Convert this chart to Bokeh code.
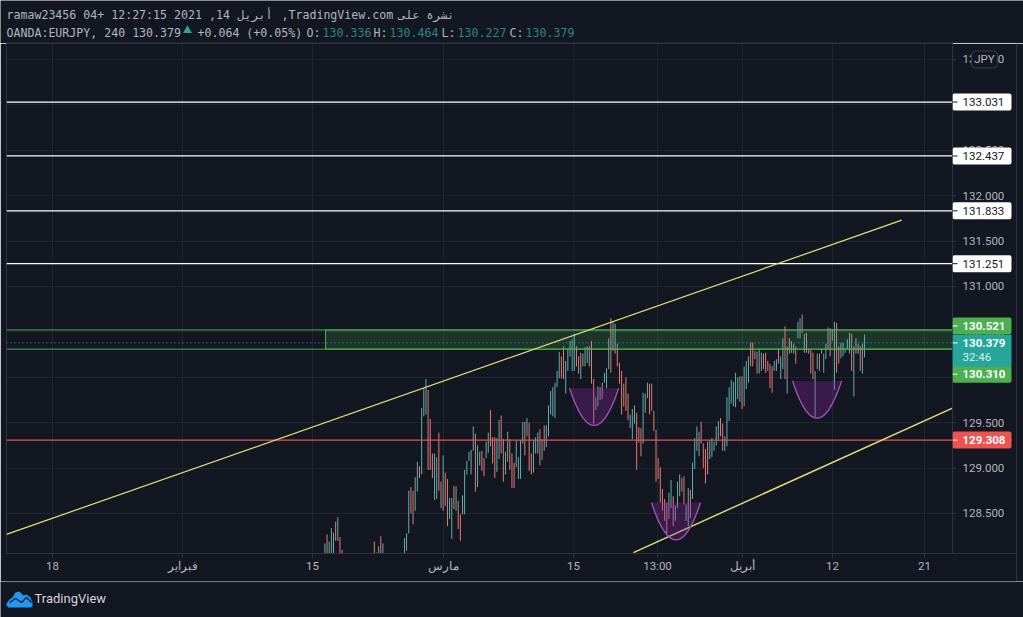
from bokeh.plotting import figure
from bokeh.layouts import column
from bokeh.models import Range1d, FixedTicker, NumeralTickFormatter
from bokeh.core.properties import value
from bokeh.embed import file_html
from bokeh.resources import INLINE
import numpy as np

BG = "#131722"; GRID = "#20242f"; BORDER = "#2f333f"; TXT = "#b2b5be"
UP = "#62aeaa"; DOWN = "#e57a73"; DIM = "#2a8580"

# ---- data: 4h OHLC bars ----
bar_high = [128.17,128.27,128.19,128.34,128.29,128.41,128.46,128.24,128.10,
 127.95,127.90,127.85,127.80,127.85,127.90,127.95,127.90,127.85,127.80,127.85,127.90,127.95,127.98,
 128.19,128.07,128.14,128.25,128.17,
 127.98,127.90,127.85,127.80,127.85,127.90,127.95,128.00,128.02,
 128.23,128.28,128.75,128.79,128.75,128.90,129.07,129.02,129.66,129.88,
 129.98,129.86,129.54,129.16,129.16,129.12,129.39,128.85,129.14,128.95,
 128.88,128.67,128.67,128.80,128.80,128.64,128.49,128.70,128.98,129.08,
 129.18,129.20,129.46,129.38,129.25,129.18,129.19,129.11,129.29,129.39,
 129.64,129.34,129.34,129.33,129.53,129.58,129.32,129.18,129.40,129.32,
 129.16,129.06,129.30,129.12,129.31,129.51,129.51,129.55,129.50,129.16,
 129.31,129.34,129.39,129.43,129.32,129.47,129.47,129.69,129.85,129.89,
 129.94,130.07,130.28,130.23,130.34,130.18,130.32,130.40,130.42,130.48,
 130.34,130.23,130.27,130.26,130.33,130.34,130.34,130.40,129.98,129.78,
 129.90,129.89,129.94,130.05,130.10,130.43,130.65,130.62,130.59,130.37,
 130.16,130.07,129.93,130.00,129.82,129.59,129.65,129.69,129.61,129.45,
 129.44,129.83,129.82,129.94,129.93,129.93,129.63,129.42,129.11,129.01,
 128.77,128.66,128.62,128.73,128.87,128.69,128.59,128.85,128.93,128.89,
 128.91,128.60,128.78,128.76,129.06,129.33,129.46,129.40,129.51,129.27,
 129.21,129.29,129.30,129.33,129.29,129.46,129.52,129.55,129.49,129.35,
 129.78,129.89,129.97,129.95,130.05,130.00,130.01,130.01,130.12,130.18,
 130.23,130.38,130.38,130.29,130.28,130.31,130.27,130.26,130.27,130.18,
 130.15,130.12,130.18,130.20,130.32,130.23,130.43,130.56,130.34,130.43,
 130.40,130.37,130.34,130.61,130.65,130.69,130.48,130.49,130.31,130.31,
 130.27,130.07,130.26,130.26,130.31,130.26,130.37,130.55,130.54,130.53,
 130.61,130.60,130.34,130.38,130.38,130.32,130.42,130.49,130.48,130.34,
 130.43,130.37,130.34,130.37,130.47]
bar_low = [128.00,128.00,128.00,128.00,128.00,128.20,128.20,128.00,128.00,
 127.75,127.70,127.65,127.60,127.65,127.70,127.75,127.70,127.65,127.60,127.65,127.70,127.75,127.80,
 128.00,128.00,128.00,128.00,128.00,
 127.80,127.70,127.65,127.60,127.65,127.70,127.75,127.80,127.85,
 128.00,128.09,128.28,128.50,128.38,128.53,128.74,128.89,128.93,129.57,
 129.59,128.98,128.98,128.89,128.65,128.66,128.75,128.56,128.53,128.58,
 128.36,128.44,128.22,128.55,128.53,128.33,128.20,128.49,128.49,128.93,
 129.08,128.93,129.19,128.74,128.79,129.03,128.97,128.91,129.11,129.17,
 129.24,129.05,128.89,128.96,129.10,129.16,128.85,128.93,129.07,128.98,
 128.78,128.78,129.01,128.88,128.88,129.27,129.14,129.35,128.97,128.93,
 128.95,129.16,129.16,129.03,129.09,129.19,129.23,129.35,129.59,129.57,
 129.55,129.89,129.99,129.99,129.98,129.82,130.07,130.23,130.07,130.07,
 130.12,130.04,129.98,130.12,130.12,130.16,130.12,129.93,129.49,129.64,
 129.68,129.75,129.76,129.94,129.88,130.09,130.05,130.29,130.26,130.12,
 129.93,129.59,129.68,129.63,129.53,129.44,129.32,129.49,128.98,129.28,
 129.13,129.27,129.61,129.77,129.59,129.63,129.41,128.85,128.88,128.62,
 128.53,128.42,128.28,128.44,128.56,128.36,128.42,128.56,128.69,128.74,
 128.60,128.42,128.36,128.45,128.66,128.99,129.19,129.13,129.27,129.00,
 128.83,128.93,129.10,129.12,129.19,129.25,129.32,129.35,129.19,129.19,
 129.24,129.52,129.71,129.68,129.67,129.76,129.73,129.65,129.68,129.87,
 129.94,130.12,130.12,130.20,130.04,130.04,130.07,130.09,130.05,130.07,
 129.88,129.83,130.07,130.07,130.15,129.98,130.09,129.98,129.82,130.26,
 130.27,130.26,130.15,130.43,130.43,130.49,130.27,130.27,130.26,130.04,
 129.98,129.56,130.09,130.07,130.26,130.05,130.20,130.31,130.23,130.40,
 129.86,130.05,130.15,130.21,130.23,130.27,130.31,130.26,130.07,129.79,
 130.26,130.26,130.07,130.04,130.22]
bar_up = [1,0,1,1,1,0,1,0,0,
 1,1,1,1,1,1,1,1,1,1,1,1,1,1,
 0,1,1,0,1,
 1,1,1,1,1,1,1,1,1,
 1,1,1,0,0,1,1,0,1,1,
 1,0,0,0,1,1,0,0,1,0,
 0,1,1,0,1,0,0,1,1,1,
 1,1,1,0,1,1,0,0,1,1,
 0,0,0,1,1,0,0,1,1,0,
 0,0,1,1,1,1,0,1,0,0,
 1,1,1,0,1,0,1,1,1,1,
 1,1,1,0,0,1,1,1,1,1,
 0,0,1,0,1,1,1,0,0,1,
 1,1,0,1,1,1,0,1,1,0,
 0,0,0,0,0,1,1,1,0,0,
 0,1,1,1,0,0,0,0,0,0,
 0,0,0,1,1,0,1,1,1,0,
 0,1,1,0,1,1,1,1,0,0,
 0,0,1,1,1,1,1,0,0,1,
 1,1,1,1,1,1,1,0,1,1,
 1,0,0,1,0,1,1,0,0,0,
 0,0,1,1,0,1,1,0,1,0,
 1,1,0,1,1,0,1,0,1,0,
 0,1,1,0,1,1,1,1,0,1,
 1,0,0,1,1,1,1,1,0,1,
 1,0,0,1,1]
bar_index = list(range(len(bar_high)))

price_ticks = [128.5,129.0,129.5,130.0,130.5,131.0,131.5,132.0,132.5,133.0,133.5]
time_ticks = [-126.7,-66.2,-5.8,55.2,115.6,154.7,194.2,236.1,278.9]
time_labels = ["18","فبراير","15","مارس","15","13:00","أبريل","12","21"]

white_levels = [133.031,132.437,131.833,131.251]
red_level = 129.308
zone_top, zone_bottom, last_close = 130.521, 130.310, 130.379
zone_start = 0.3

trend_up_x, trend_up_y = [-148.1,268.3], [128.27,131.73]
trend_low_x, trend_low_y = [143.5,291.9], [128.07,129.66]
# (left, right, rim price, bottom price)
arcs = [(113.8,136.6,129.88,129.47),(151.9,174.7,128.62,128.21),(217.5,240.3,129.96,129.55)]

W, H = 1023, 617
TOP, PLOT_L, PLOT_W, PLOT_H, AXIS_H = 43, 6, 946, 510, 28
Y_TOP, Y_BOT = 133.6755, 128.0595
X0, X1 = -148.09, 291.9
PX = (Y_TOP - Y_BOT) / PLOT_H   # price per pixel

# ---- main chart ----
p = figure(width=W, height=PLOT_H+AXIS_H, frame_width=PLOT_W, frame_height=PLOT_H,
           x_range=Range1d(X0,X1), y_range=Range1d(Y_BOT,Y_TOP),
           y_axis_location="right", output_backend="svg", toolbar_location=None,
           background_fill_color=BG, border_fill_color=BG, frame_align=False,
           min_border_left=PLOT_L,min_border_right=W-PLOT_L-PLOT_W,min_border_top=0,min_border_bottom=AXIS_H)
p.outline_line_color = BORDER
for ax in (p.xaxis[0], p.yaxis[0]):
    ax.axis_line_color = BORDER
    ax.major_tick_line_color = BORDER
    ax.minor_tick_line_color = None
    ax.major_tick_out = 4
    ax.major_tick_in = 0
    ax.major_label_text_color = TXT
    ax.major_label_text_font = "Roboto"
    ax.major_label_text_font_size = "11.5px"
p.yaxis[0].ticker = FixedTicker(ticks=price_ticks)
p.yaxis[0].formatter = NumeralTickFormatter(format="0.000")
p.yaxis[0].major_label_standoff = 6
p.xaxis[0].ticker = FixedTicker(ticks=time_ticks)
p.xaxis[0].major_label_overrides = dict(zip(time_ticks,time_labels))
p.xaxis[0].major_label_standoff = 1
p.xgrid.ticker = FixedTicker(ticks=time_ticks)
p.ygrid.ticker = FixedTicker(ticks=price_ticks)
p.grid.grid_line_color = GRID

GREEN = "#4caf50"
p.quad(left=[zone_start],right=[X1+5],top=[zone_top],bottom=[zone_bottom],
       fill_color=GREEN,fill_alpha=0.2,line_color=GREEN,line_width=1)

for flag,color in ((1,UP),(0,DOWN)):
    picked = [i for i in bar_index if bar_up[i]==flag]
    p.multi_line(xs=[[i,i] for i in picked],ys=[[bar_low[i],bar_high[i]] for i in picked],
                 line_color=color,line_width=1)

def level(price,color,width=1,dash="solid"):
    p.line([X0,X1],[price,price],line_color=color,line_width=width,line_dash=dash)
level(zone_top,GREEN); level(zone_bottom,GREEN)
level(last_close,"#26a69a",dash="1 3")
for i,lv in enumerate(white_levels):
    level(lv,"#ffffff",1.1 if i==3 else 1.3)
level(red_level,"#e8534e",1.1)
p.line(trend_up_x,trend_up_y,line_color="#e6e07a",line_width=1.2)
p.line(trend_low_x,trend_low_y,line_color="#e6e07a",line_width=1.4)

t = np.linspace(0,1,40)
for l,r,rim,bot in arcs:
    ctrl = rim + 2*(bot-rim)
    mid = (l+r)/2
    cx = (1-t)**2*l + 2*t*(1-t)*mid + t**2*r
    cy = (1-t)**2*rim + 2*t*(1-t)*ctrl + t**2*rim
    p.patch(cx,cy,fill_color="#9c27b0",fill_alpha=0.28,line_color=None)
    p.line(cx,cy,line_color="#a25ab8",line_width=1.3)

# ---- price tags: a transparent strip laid over the price axis, same price scale ----
STRIP_W = W - PLOT_L - PLOT_W
s = figure(width=STRIP_W,height=PLOT_H+AXIS_H,frame_width=STRIP_W,frame_height=PLOT_H+AXIS_H,
           x_range=Range1d(0,STRIP_W),y_range=Range1d(Y_TOP-(PLOT_H+AXIS_H)*PX,Y_TOP),
           x_axis_location=None,y_axis_location=None,output_backend="svg",toolbar_location=None,
           background_fill_color=None,border_fill_color=None,outline_line_color=None,frame_align=False,
           min_border_left=0,min_border_right=0,min_border_top=0,min_border_bottom=0)
s.grid.visible = False
s.styles = {"position":"absolute","left":f"{PLOT_L+PLOT_W}px","top":f"{TOP}px"}
s.line([0,64],[Y_BOT,Y_BOT],line_color=BORDER)
s.line([64,64],[Y_TOP,Y_TOP-(PLOT_H+AXIS_H)*PX],line_color=BORDER)
def tag(price,text,bg,fg,shift=0,bold=False,tick="#ffffff",h=17):
    yc = price + shift*PX
    s.rect([29.5],[yc],width=[59],height=[h],height_units="screen",fill_color=bg,line_color=None,border_radius=2)
    s.line([0,5],[yc,yc],line_color=tick)
    s.text([10],[yc],text=[text],text_color=fg,text_font=value("Roboto"),text_font_size="11.5px",
           text_font_style="bold" if bold else "normal",text_baseline="middle")
for lv in white_levels:
    tag(lv,f"{lv:.3f}","#ffffff",BG,tick=BG)
tag(red_level,f"{red_level:.3f}","#ef5350","#ffffff",bold=True)
tag(zone_top,f"{zone_top:.3f}",GREEN,"#ffffff",shift=4,bold=True)
tag(zone_bottom,f"{zone_bottom:.3f}",GREEN,"#ffffff",shift=-25,bold=True)
s.rect([29.5],[last_close-8*PX],width=[59],height=[32],height_units="screen",fill_color="#26a69a",line_color=None)
s.line([0,5],[last_close,last_close],line_color="#ffffff")
s.text([10],[last_close],text=[f"{last_close:.3f}"],text_color="#ffffff",text_font=value("Roboto"),
       text_font_size="11.5px",text_font_style="bold",text_baseline="middle")
s.text([10],[last_close-14*PX],text=["32:46"],text_color="#d8efec",text_font=value("Roboto"),
       text_font_size="11.5px",text_baseline="middle")
s.rect([32],[133.5],width=[26],height=[17],height_units="screen",fill_color=BG,line_color="#3a3f4c",border_radius=4)
s.text([32],[133.5],text=["JPY"],text_color=TXT,text_font=value("Roboto"),text_font_size="11.5px",
       text_align="center",text_baseline="middle")

# ---- header ----
h = figure(width=W,height=TOP,x_range=Range1d(0,W),y_range=Range1d(TOP,0),
           x_axis_location=None,y_axis_location=None,output_backend="svg",toolbar_location=None,
           background_fill_color=BG,border_fill_color=BG,outline_line_color=None,frame_align=False,
           min_border_left=0,min_border_right=0,min_border_top=0,min_border_bottom=0)
h.grid.visible = False
def htext(x,y,txt,c=TXT):
    h.text([x],[y],text=[txt],text_color=c,text_font=value("DejaVu Sans Mono"),text_font_size="11.6px",text_baseline="middle")
htext(6,14,"ramaw23456 04+ 12:27:15 2021 ,14")
htext(237,14,"أبريل")
htext(281,14,",TradingView.com")
htext(398,14,"نشرة على")
htext(6,32,"OANDA:EURJPY, 240 130.379")
h.scatter([187],[30],marker="triangle",size=9,fill_color="#26a69a",line_color=None)
htext(197,32,"+0.064 (+0.05%)")
for x,lab,val in [(306,"O:","130.336"),(373,"H:","130.464"),(441,"L:","130.227"),(509,"C:","130.379")]:
    htext(x,32,lab)
    htext(x+16,32,val,DIM)
h.line([PLOT_L,1016],[42.5,42.5],line_color=BORDER)

# ---- footer ----
FH = H-TOP-PLOT_H-AXIS_H
f = figure(width=W,height=FH,x_range=Range1d(0,W),y_range=Range1d(FH,0),
           x_axis_location=None,y_axis_location=None,output_backend="svg",toolbar_location=None,
           background_fill_color=BG,border_fill_color=BG,outline_line_color=None,frame_align=False,
           min_border_left=0,min_border_right=0,min_border_top=0,min_border_bottom=0)
f.grid.visible = False
f.line([PLOT_L,1016],[0.5,0.5],line_color=BORDER)
lx = [6,9,12,15,19,23,26,30,32,32,30,8,6]
ly = [22,18,16,11,10,14,13,16,21,25,26,26,24]
f.patch(lx,ly,fill_color="#2196f3",line_color=None)
f.line([9,15,21,26,31],[21,17,21,16,21],line_color=BG,line_width=1.3)
f.text([34],[17],text=["TradingView"],text_color="#d1d4dc",text_font=value("Roboto"),text_font_size="13px",text_baseline="middle")

layout = column(h,p,f,s,spacing=0)
open("out.html","w").write(file_html(layout, INLINE))
